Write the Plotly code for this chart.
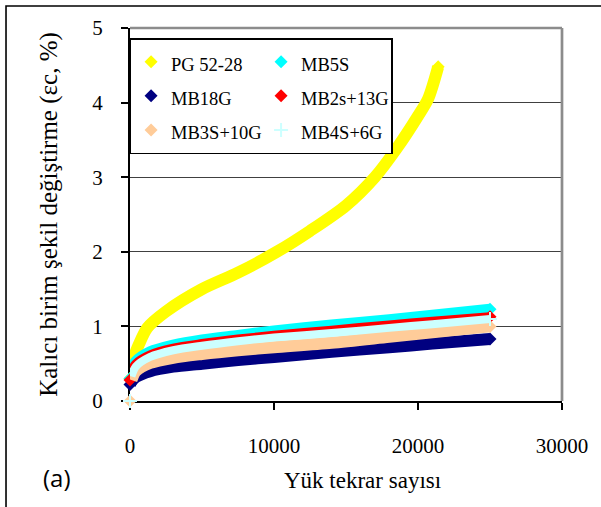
import plotly.graph_objects as go

# Load repetitions (cycles) and permanent strain values (%)
cycles_pg = [0, 100, 300, 600, 1200, 2500, 5000, 7500, 10200, 12500, 15000, 17000, 18500, 20000, 20700, 21400]
pg_52_28 = [0.30, 0.45, 0.60, 0.75, 0.98, 1.20, 1.50, 1.72, 2.00, 2.28, 2.62, 3.00, 3.38, 3.82, 4.05, 4.48]

cycles_mb = [0, 100, 400, 1400, 3000, 5000, 7500, 10000, 14000, 18000, 21000, 25000]
mb5s = [0.30, 0.42, 0.53, 0.66, 0.75, 0.82, 0.88, 0.94, 1.02, 1.09, 1.15, 1.23]
mb18g = [0.22, 0.26, 0.32, 0.40, 0.46, 0.50, 0.55, 0.59, 0.66, 0.72, 0.77, 0.83]
mb2s_13g = [0.28, 0.39, 0.50, 0.62, 0.71, 0.77, 0.83, 0.88, 0.95, 1.02, 1.07, 1.13]
mb3s_10g = [0.00, 0.28, 0.40, 0.51, 0.58, 0.63, 0.68, 0.72, 0.78, 0.86, 0.92, 1.00]
mb4s_6g = [0.00, 0.33, 0.46, 0.59, 0.68, 0.74, 0.80, 0.85, 0.91, 0.98, 1.03, 1.10]

x_ticks = [0, 10000, 20000, 30000]
y_ticks = [0, 1, 2, 3, 4, 5]

SERIF = "Liberation Serif"

# name, x, y, colour, band width, end symbol, end size
series = [
    ("PG 52-28", cycles_pg, pg_52_28, "#FFFF00", 12, "diamond", 10),
    ("MB5S", cycles_mb, mb5s, "#00FFFF", 11, "diamond", 10),
    ("MB18G", cycles_mb, mb18g, "#000080", 12, "diamond", 10),
    ("MB2s+13G", cycles_mb, mb2s_13g, "#FF0000", 9, "diamond", 10),
    ("MB3S+10G", cycles_mb, mb3s_10g, "#FFCC99", 12, "diamond", 10),
    ("MB4S+6G", cycles_mb, mb4s_6g, "#CCFFFF", 8, "cross-thin", 10),
]

fig = go.Figure()
for name, xs, ys, color, width, symbol, msize in series:
    start = 1 if ys[0] == 0 else 0
    fig.add_trace(go.Scatter(
        x=xs[start:], y=ys[start:], mode="lines",
        line=dict(color=color, width=width, shape="spline", smoothing=0.8),
        showlegend=False, hoverinfo="skip",
    ))
    if symbol == "cross-thin":
        marker = dict(symbol=symbol, size=msize, color=color,
                      line=dict(color=color, width=2))
    else:
        marker = dict(symbol=symbol, size=msize, color=color,
                      line=dict(width=0))
    fig.add_trace(go.Scatter(
        x=[xs[0], xs[-1]], y=[ys[0], ys[-1]], mode="markers",
        marker=marker, cliponaxis=False,
        name='<span style="font-size:18.5px">%s</span>' % name,
    ))

fig.update_layout(
    width=601, height=507,
    margin=dict(l=130, r=39, t=28, b=106, autoexpand=False),
    paper_bgcolor="white", plot_bgcolor="white",
    font=dict(family=SERIF, color="black"),
    legend=dict(
        orientation="h", x=-0.001, xanchor="left", y=0.973, yanchor="top",
        entrywidth=85, entrywidthmode="pixels",
        bgcolor="white", bordercolor="black", borderwidth=1.5,
        font=dict(family=SERIF, size=24, color="black"),
        traceorder="normal",
    ),
    xaxis=dict(
        range=[0, 30000], tickvals=x_ticks, ticktext=[str(v) for v in x_ticks],
        ticks="outside", ticklen=7, tickwidth=1.5, tickcolor="black",
        showline=True, linecolor="black", linewidth=2,
        showgrid=False, zeroline=False, layer="below traces",
        tickfont=dict(family=SERIF, size=21, color="black"),
        ticklabelstandoff=18,
    ),
    yaxis=dict(
        range=[0, 5], tickvals=y_ticks,
        ticks="outside", ticklen=7, tickwidth=1.5, tickcolor="black",
        showline=True, linecolor="black", linewidth=2,
        showgrid=True, gridcolor="#404040", gridwidth=1.3, zeroline=False,
        layer="below traces",
        tickfont=dict(family=SERIF, size=21, color="black"),
        ticklabelstandoff=14,
        title=dict(text="Kalıcı birim şekil değiştirme (εc, %)",
                   font=dict(family=SERIF, size=25, color="black"),
                   standoff=28),
    ),
    shapes=[
        # outer frame
        dict(type="rect", xref="paper", yref="paper",
             x0=-0.287, x1=1.3, y0=-0.5, y1=1.059,
             line=dict(color="black", width=1.6), layer="above"),
        # grey plot-area border (top and right)
        dict(type="line", xref="paper", yref="paper", x0=0, x1=1, y0=1, y1=1,
             line=dict(color="#8C8C8C", width=2.7), layer="above"),
        dict(type="line", xref="paper", yref="paper", x0=1, x1=1, y0=0, y1=1,
             line=dict(color="#8C8C8C", width=2.7), layer="above"),
    ],
    annotations=[
        dict(text="Yük tekrar sayısı", xref="paper", yref="paper",
             x=0.539, y=-0.212, xanchor="center", yanchor="middle",
             showarrow=False, font=dict(family=SERIF, size=23, color="black")),
        dict(text="(a)", xref="paper", yref="paper",
             x=-0.170, y=-0.206, xanchor="center", yanchor="middle",
             showarrow=False, font=dict(family="Open Sans", size=24, color="black")),
    ],
)

fig.write_html("out.html")
